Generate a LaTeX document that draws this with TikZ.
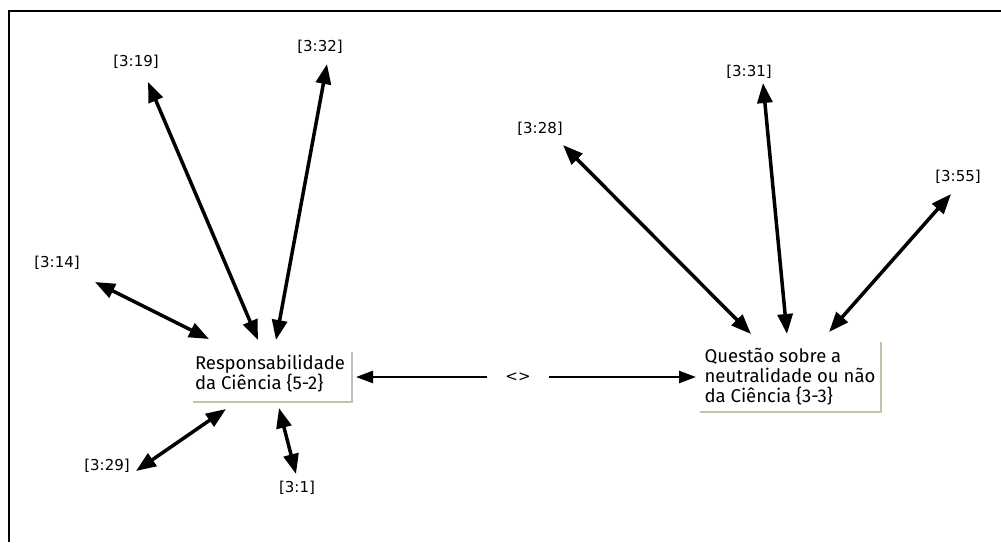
\documentclass[tikz,border=0pt]{standalone}
\usepackage{fontspec}
\setmainfont{Fira Sans}
\newfontfamily\labfont{DejaVu Sans}
\usetikzlibrary{arrows.meta}
\definecolor{shadowtan}{RGB}{200,190,172}
\begin{document}
\begin{tikzpicture}[x=1pt,y=-1pt,
  lab/.style={font=\labfont\fontsize{15}{18}\selectfont, inner sep=0pt},
  concept/.style={font=\fontsize{18.5}{20}\selectfont, align=left, inner sep=0pt},
  link/.style={line width=3.5pt, {Triangle[length=20pt,width=15pt]}-{Triangle[length=20pt,width=15pt]}},
  shadowline/.style={draw=shadowtan, line width=2.5pt}
]
\useasboundingbox (0,0) rectangle (1001,542);
\fill[white] (0,0) rectangle (1001,542);
\draw[line width=2pt] (9,542) -- (9,11) -- (1001,11);
% concept nodes
\node[concept] (A) at (270,374) {Responsabilidade\\da Ciência \{5-2\}};
\node[concept] (B) at (790,377) {Questão sobre a\\neutralidade ou não\\da Ciência \{3-3\}};
\draw[shadowline] (193,402) -- (352,402) -- (352,352);
\draw[shadowline] (700,412) -- (881,412) -- (881,342);
% labels
\node[lab] (l19) at (136,62) {[3:19]};
\node[lab] (l32) at (320,47) {[3:32]};
\node[lab] (l14) at (57,263) {[3:14]};
\node[lab] (l29) at (107,466) {[3:29]};
\node[lab] (l1) at (297,488) {[3:1]};
\node[lab] (l28) at (540,129) {[3:28]};
\node[lab] (l31) at (749,72) {[3:31]};
\node[lab] (l55) at (958,177) {[3:55]};
% anchor coordinates
\coordinate (a19) at (148,82);   \coordinate (b19) at (258,340);
\coordinate (a32) at (327,64);   \coordinate (b32) at (276,340);
\coordinate (a14) at (95,282);   \coordinate (b14) at (209,339);
\coordinate (a29) at (136,471);  \coordinate (b29) at (226,409);
\coordinate (a1) at (279,408);   \coordinate (b1) at (296,474);
\coordinate (a28) at (563,145);  \coordinate (b28) at (751,334);
\coordinate (a31) at (763,83);   \coordinate (b31) at (787,334);
\coordinate (a55) at (951,194);  \coordinate (b55) at (829,332);
\coordinate (c1) at (356,377);   \coordinate (c2) at (696,377);
\draw[link] (a19) -- (b19);
\draw[link] (a32) -- (b32);
\draw[link] (a14) -- (b14);
\draw[link] (a29) -- (b29);
\draw[link] (a1) -- (b1);
\draw[link] (a28) -- (b28);
\draw[link] (a31) -- (b31);
\draw[link] (a55) -- (b55);
\draw[line width=2.5pt, {Triangle[length=17pt,width=12pt]}-{Triangle[length=17pt,width=12pt]}] (c1) -- (c2);
\node[lab, fill=white, inner xsep=18pt, inner ysep=6pt] (ne) at (518,377) {<>};
\end{tikzpicture}
\end{document}
